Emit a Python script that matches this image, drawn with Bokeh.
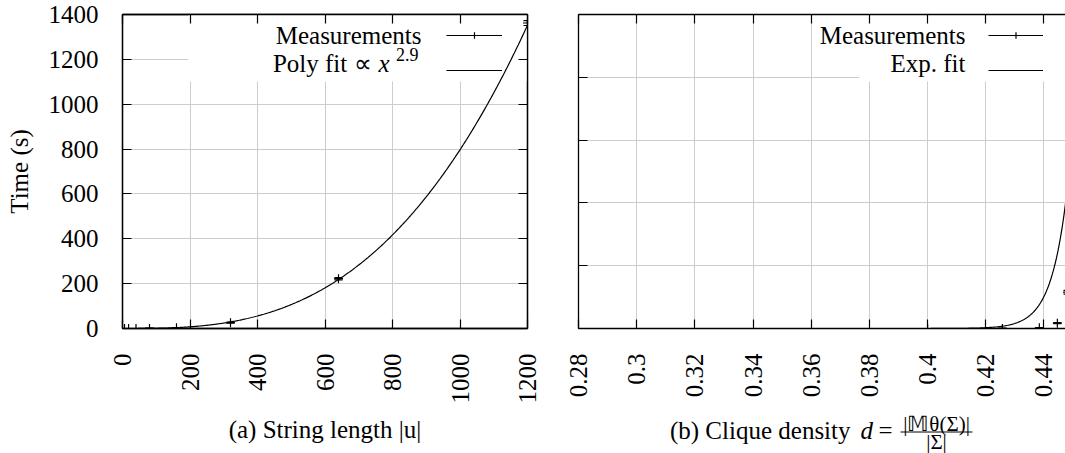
import numpy as np
from bokeh.plotting import figure
from bokeh.layouts import row, column
from bokeh.models import (Range1d, FixedTicker, LinearAxis, Legend, LegendItem,
                          Label, BoxAnnotation, Arrow, ColumnDataSource)
from bokeh.embed import file_html
from bokeh.resources import INLINE

# ---------------- data ----------------
lengths = [6, 18, 40, 80, 160, 320, 640, 1200]
length_times = [0.0, 0.0, 0.1, 0.5, 3.0, 26.0, 222.0, 1362.0]
length_errs = [0.0, 0.0, 0.0, 0.2, 0.5, 2.0, 5.0, 11.0]
poly_coef = 1.59e-6      # fitted: time = poly_coef * |u| ** poly_exp
poly_exp = 2.9

densities = [0.400, 0.4257, 0.4384, 0.4446, 0.4481]
density_times = [0.0, 0.5, 5.0, 42.0, 289.0]
density_errs = [0.0, 0.2, 1.0, 4.0, 15.0]
exp_amp = 995.0          # fitted: time = exp_amp * exp(exp_rate * (d - exp_x0))
exp_rate = 184.0
exp_x0 = 0.4474

length_ticks = [0, 200, 400, 600, 800, 1000, 1200]
time_ticks = [0, 200, 400, 600, 800, 1000, 1200, 1400]
density_ticks = [0.28, 0.30, 0.32, 0.34, 0.36, 0.38, 0.40, 0.42, 0.44]
density_tick_labels = ["0.28", "0.3", "0.32", "0.34", "0.36", "0.38", "0.4", "0.42", "0.44"]
density_time_ticks = [0, 500, 1000, 1500, 2000, 2500]

FONT = "Liberation Serif"
FS = "25px"
GRID = "#cdcdcd"


def style_axis(ax, ticks, labels=True):
    ax.ticker = FixedTicker(ticks=ticks)
    ax.major_tick_in = 9
    ax.major_tick_out = 0
    ax.minor_tick_in = 0
    ax.minor_tick_out = 0
    ax.axis_line_color = "black"
    ax.axis_line_width = 1.3
    ax.major_tick_line_color = "black"
    ax.major_tick_line_width = 1.2
    ax.major_label_text_font = FONT
    ax.major_label_text_color = "black"
    if labels:
        ax.major_label_text_font_size = FS
    else:
        ax.major_label_overrides = {t: "" for t in ticks}
        ax.major_label_text_font_size = "1px"
        ax.major_label_standoff = 0


def base_fig(xr, yr, fw, mbl, mbr):
    p = figure(frame_width=fw, frame_height=314, x_range=xr, y_range=yr,
               output_backend="svg", toolbar_location=None,
               min_border_left=mbl, min_border_right=mbr,
               min_border_top=14, min_border_bottom=85)
    p.background_fill_color = "white"
    p.border_fill_color = "white"
    for g in (p.xgrid, p.ygrid):
        g.grid_line_color = GRID
        g.grid_line_width = 1
    return p


def title_fig(w):
    t = figure(width=w, height=40, x_range=Range1d(0, w), y_range=Range1d(0, 40),
               output_backend="svg", toolbar_location=None,
               x_axis_location=None, y_axis_location=None,
               min_border_left=0, min_border_right=0, min_border_top=0, min_border_bottom=0)
    t.outline_line_color = None
    t.grid.visible = False
    t.background_fill_color = "white"
    t.border_fill_color = "white"
    return t


def lab(p, x, y, text, size=FS, align="right", style="normal"):
    p.add_layout(Label(x=x, y=y, x_units="screen", y_units="screen", text=text,
                       text_font=FONT, text_font_size=size, text_align=align,
                       text_baseline="middle", text_font_style=style, text_color="black"))


def error_points(p, xs, ys, errs):
    src = ColumnDataSource(dict(
        x=xs, y=ys,
        lo=[t - e for t, e in zip(ys, errs)],
        hi=[t + e for t, e in zip(ys, errs)]))
    bar = p.segment(x0="x", y0="lo", x1="x", y1="hi", source=src, line_color="black", line_width=1.2)
    p.scatter("x", "lo", source=src, marker="dash", size=8, line_color="black", line_width=1.2)
    p.scatter("x", "hi", source=src, marker="dash", size=8, line_color="black", line_width=1.2)
    pt = p.scatter("x", "y", source=src, marker="cross", size=9, line_color="black", line_width=1.2)
    return bar, pt


def key(p, x, bar, pt, fit, gw):
    leg = Legend(items=[LegendItem(label="\u200b", renderers=[bar, pt]),
                        LegendItem(label="\u200b", renderers=[fit])],
                 location=(x, 250), glyph_width=gw, glyph_height=16, spacing=19,
                 padding=0, margin=0, label_standoff=0, label_width=0, label_height=0,
                 label_text_font_size="1px", border_line_color=None, background_fill_alpha=0)
    p.add_layout(leg)


# ---------------- left panel ----------------
p1 = base_fig(Range1d(0, 1200), Range1d(0, 1400), 405, 122, 14)
p1.outline_line_color = "black"
p1.outline_line_width = 1.3
p1.xgrid.ticker = FixedTicker(ticks=length_ticks)
p1.ygrid.ticker = FixedTicker(ticks=time_ticks)
for ax in p1.xaxis:
    style_axis(ax, length_ticks)
    ax.major_label_orientation = np.pi / 2
    ax.major_label_standoff = 25
for ax in p1.yaxis:
    style_axis(ax, time_ticks)
    ax.major_label_standoff = 24
    ax.axis_label = "Time (s)"
    ax.axis_label_standoff = 13
    ax.axis_label_text_font = FONT
    ax.axis_label_text_font_size = FS
    ax.axis_label_text_font_style = "normal"
    ax.axis_label_text_color = "black"
top1 = LinearAxis()
style_axis(top1, length_ticks, labels=False)
p1.add_layout(top1, "above")
right1 = LinearAxis()
style_axis(right1, time_ticks, labels=False)
p1.add_layout(right1, "right")

# opaque key area
p1.add_layout(BoxAnnotation(left=195, right=1200, bottom=1101, top=1400,
                            fill_color="white", fill_alpha=1, line_color=None,
                            level="underlay"))

bar1, pt1 = error_points(p1, lengths, length_times, length_errs)
xs1 = np.linspace(0, 1200, 400)
fit1 = p1.line(xs1, poly_coef * xs1 ** poly_exp, line_color="black", line_width=1.2)
key(p1, 324, bar1, pt1, fit1, 56)

lab(p1, 299, 293.5, "Measurements")
lab(p1, 249, 265.5, "Poly fit \u221d")
lab(p1, 267, 265.5, "x", style="italic")
lab(p1, 296, 274, "2.9", size="18px")

# title under the left panel (its frame is aligned with the panel's frame)
t1 = title_fig(541)
lab(t1, 202.5, 24.5, "(a) String length |u|", align="center")

# ---------------- right panel ----------------
p2 = base_fig(Range1d(0.28, 0.4474), Range1d(0, 2500), 487, 37, 0)
p2.outline_line_color = None
p2.xgrid.ticker = FixedTicker(ticks=density_ticks)
p2.ygrid.ticker = FixedTicker(ticks=density_time_ticks)
for ax in p2.xaxis:
    style_axis(ax, density_ticks)
    ax.major_label_orientation = np.pi / 2
    ax.major_label_standoff = 25
    ax.major_label_overrides = {t: s for t, s in zip(density_ticks, density_tick_labels)}
for ax in p2.yaxis:
    style_axis(ax, density_time_ticks, labels=False)
top2 = LinearAxis()
style_axis(top2, density_ticks, labels=False)
p2.add_layout(top2, "above")

p2.add_layout(BoxAnnotation(left=0.3765, right=0.4474, bottom=1966, top=2500,
                            fill_color="white", fill_alpha=1, line_color=None,
                            level="underlay"))

bar2, pt2 = error_points(p2, densities, density_times, density_errs)
xs2 = np.linspace(0.28, 0.45, 500)
fit2 = p2.line(xs2, exp_amp * np.exp(exp_rate * (xs2 - exp_x0)), line_color="black", line_width=1.2)
key(p2, 410, bar2, pt2, fit2, 55)

lab(p2, 387, 293.5, "Measurements")
lab(p2, 387, 265.5, "Exp. fit")

# title under the right panel, with a stacked fraction
t2 = title_fig(524)
lab(t2, 272, 23, "(b) Clique density")
lab(t2, 282, 23, "d", align="left", style="italic")
lab(t2, 300, 23, "=", align="left")
lab(t2, 358, 30, "|\U0001D544\u03b8(\u03a3)|", size="21px", align="center")
lab(t2, 358, 12, "|\u03a3|", size="21px", align="center")
t2.add_layout(Arrow(x_start=322, y_start=21.5, x_end=394, y_end=21.5,
                    start_units="screen", end_units="screen", end=None, start=None,
                    line_color="black", line_width=1))

layout = row(column(p1, t1), column(p2, t2))
open("out.html", "w").write(file_html(layout, INLINE))
